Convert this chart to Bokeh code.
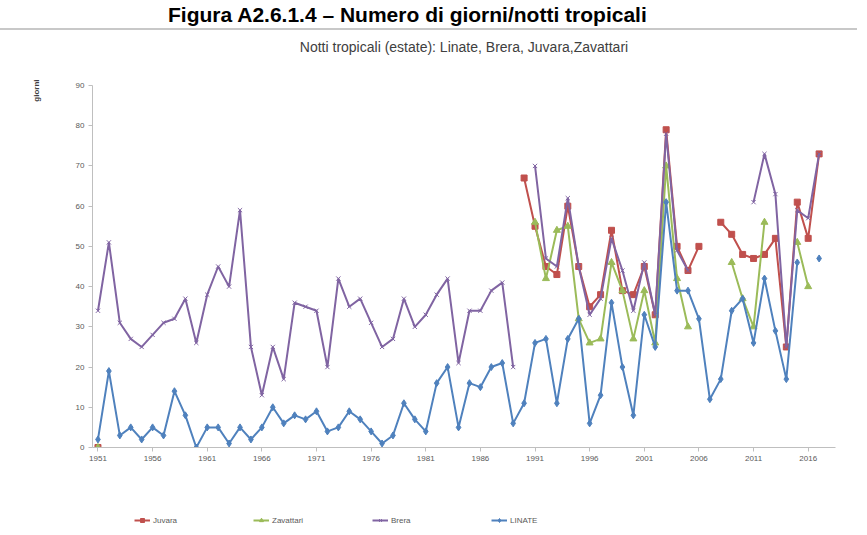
from bokeh.plotting import figure
from bokeh.models import Range1d, FixedTicker, Legend, LegendItem, Title, Div
from bokeh.layouts import column
from bokeh.embed import file_html
from bokeh.resources import INLINE

nan = float("nan")

years = list(range(1951, 2018))

linate = [2, 19, 3, 5, 2, 5, 3, 14, 8, 0,
          5, 5, 1, 5, 2, 5, 10, 6, 8, 7,
          9, 4, 5, 9, 7, 4, 1, 3, 11, 7,
          4, 16, 20, 5, 16, 15, 20, 21, 6, 11,
          26, 27, 11, 27, 32, 6, 13, 36, 20, 8,
          33, 25, 61, 39, 39, 32, 12, 17, 34, 37,
          26, 42, 29, 17, 46, nan, 47]

brera = [34, 51, 31, 27, 25, 28, 31, 32, 37, 26,
         38, 45, 40, 59, 25, 13, 25, 17, 36, 35,
         34, 20, 42, 35, 37, 31, 25, 27, 37, 30,
         33, 38, 42, 21, 34, 34, 39, 41, 20, nan,
         70, 47, 45, 62, 45, 33, 37, 52, 44, 34,
         46, 33, 78, 49, 44, nan, nan, nan, nan, nan,
         61, 73, 63, 25, 59, 57, 73]

juvara = [0] + [nan] * 38 + [67,
          55, 45, 43, 60, 45, 35, 38, 54, 39, 38,
          45, 33, 79, 50, 44, 50, nan, 56, 53, 48,
          47, 48, 52, 25, 61, 52, 73]

zavattari = [0] + [nan] * 39 + [
             56, 42, 54, 55, 32, 26, 27, 46, 39, 27,
             39, 26, 70, 42, 30, nan, nan, nan, 46, 37,
             30, 56, nan, nan, 51, 40, nan]

x_ticks = list(range(1951, 2017, 5))
y_ticks = list(range(0, 91, 10))

title_text = "Notti tropicali (estate): Linate, Brera, Juvara,Zavattari"
caption_text = "Figura A2.6.1.4 \u2013 Numero di giorni/notti tropicali"
y_label = "giorni"

FONT = "Liberation Sans"

caption = Div(text=caption_text, width=859, height=20,
              styles={"font-family": FONT, "font-weight": "bold",
                      "font-size": "21px", "color": "#000000",
                      "padding-left": "163px", "line-height": "19px"})

p = figure(output_backend="svg", toolbar_location=None,
           frame_width=743, frame_height=362,
           min_border_left=92, min_border_right=24,
           min_border_top=55, min_border_bottom=25,
           x_range=Range1d(1950.5, 2018.5), y_range=Range1d(0, 90))
p.styles = {"box-shadow": "-2px -2px 0 0 #C8C8C8"}
p.outline_line_color = None
p.xgrid.grid_line_color = None
p.ygrid.grid_line_color = None

# chart title (outermost) with a spacer between it and the frame
p.title.text = title_text
p.title.align = "center"
p.title.offset = 25
p.title.text_font = FONT
p.title.text_font_size = "14px"
p.title.text_font_style = "normal"
p.title.text_color = "#404040"
p.add_layout(Title(text=" ", text_font_size="12px"), "above")

for ax in (p.xaxis[0], p.yaxis[0]):
    ax.axis_line_color = "#BFBFBF"
    ax.major_tick_line_color = "#BFBFBF"
    ax.minor_tick_line_color = None
    ax.major_tick_in = 0
    ax.major_tick_out = 4
    ax.major_label_text_font = FONT
    ax.major_label_text_font_size = "8px"
    ax.major_label_text_color = "#595959"
    ax.major_label_standoff = 4
p.xaxis.ticker = FixedTicker(ticks=x_ticks)
p.yaxis.ticker = FixedTicker(ticks=y_ticks)

# y label near the top of the axis
p.add_layout(Title(text=" ", text_font_size="13px"), "left")
p.add_layout(Title(text=y_label, align="right", offset=-6,
                   text_font=FONT, text_font_size="8px",
                   text_font_style="bold", text_color="#404040"), "left")

series = [
    ("Juvara", juvara, "#C0504D", "square", 6),
    ("Zavattari", zavattari, "#9BBB59", "triangle", 7),
    ("Brera", brera, "#8064A2", "x", 6),
    ("LINATE", linate, "#4F81BD", "diamond", 7),
]

# separate strip for the legend below the chart (its own ranges keep the
# series out of view, only the legend glyphs are seen)
pl = figure(output_backend="svg", toolbar_location=None,
            width=859, height=60, min_border=0,
            x_axis_type=None, y_axis_type=None,
            x_range=Range1d(0, 1), y_range=Range1d(0, 1))
pl.styles = {"box-shadow": "-2px 0 0 0 #C8C8C8"}
pl.outline_line_color = None
pl.grid.visible = False

items = []
for name, vals, col, mk, sz in series:
    p.line(years, vals, line_color=col, line_width=2)
    p.scatter(years, vals, marker=mk, size=sz, fill_color=col,
              line_color=col)
    l = pl.line(years, vals, line_color=col, line_width=2)
    s = pl.scatter(years, vals, marker=mk, size=sz, fill_color=col,
                   line_color=col)
    items.append(LegendItem(label=name, renderers=[l, s]))

lg = Legend(items=items, location=(42, 7), orientation="horizontal",
            padding=0, margin=0, border_line_alpha=0,
            background_fill_alpha=0, glyph_width=16, glyph_height=10,
            label_text_font=FONT, label_text_font_size="8px",
            label_text_color="#595959", label_standoff=3,
            label_height=10, label_width=60, spacing=40)
pl.add_layout(lg, "center")

layout = column(caption, p, pl, spacing=0)
open("out.html", "w").write(file_html(layout, INLINE))
